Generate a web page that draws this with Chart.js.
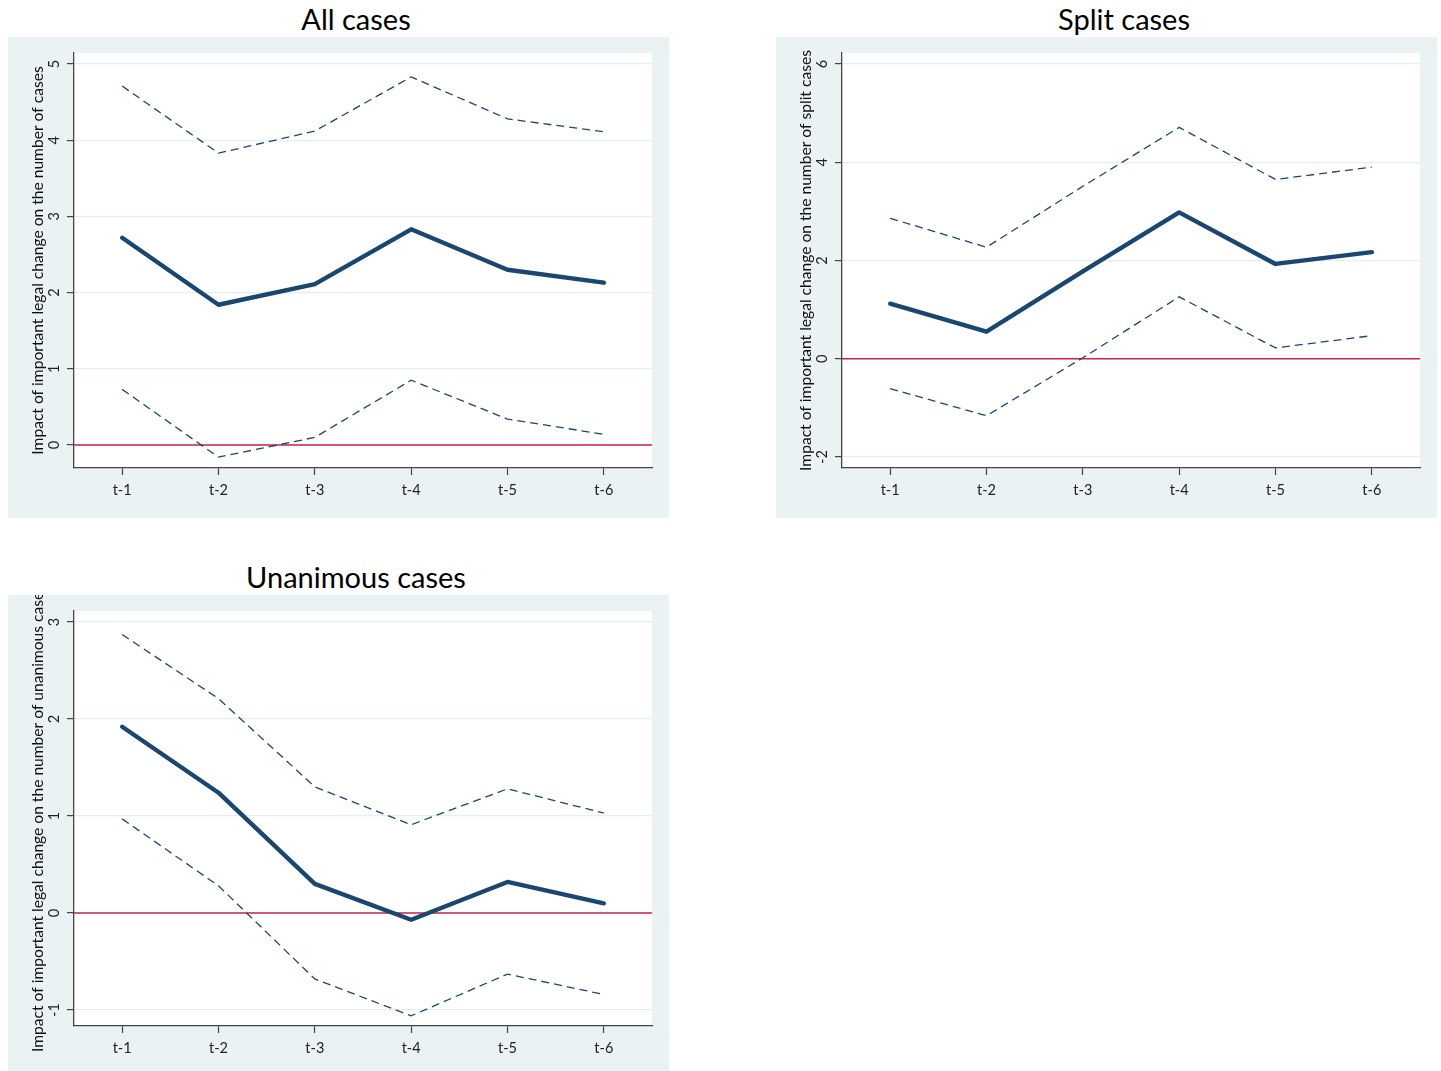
<!DOCTYPE html>
<html>
<head>
<meta charset="utf-8">
<title>Impact of important legal change</title>
<script src="https://cdn.jsdelivr.net/npm/chart.js@4.4.1/dist/chart.umd.min.js"></script>
<style>
  html, body { margin: 0; padding: 0; background: #ffffff; width: 1441px; height: 1071px; overflow: hidden; }
  .panel { position: absolute; }
  .panel canvas { position: absolute; left: 0; display: block; }
  .ptitle { position: absolute; left: 0; width: 696px; text-align: center; font-family: Lato, "Open Sans", sans-serif; font-size: 29px; color: #000; line-height: 32px; white-space: nowrap; }
</style>
</head>
<body>
<div class="panel" id="p1" style="left:8px; top:0px;">
  <div class="ptitle" style="top:3px;">All cases</div>
  <canvas id="c1" width="661" height="481" style="top:37px;"></canvas>
</div>
<div class="panel" id="p2" style="left:776px; top:0px;">
  <div class="ptitle" style="top:3px;">Split cases</div>
  <canvas id="c2" width="661" height="481" style="top:37px;"></canvas>
</div>
<div class="panel" id="p3" style="left:8px; top:558px;">
  <div class="ptitle" style="top:3px;">Unanimous cases</div>
  <canvas id="c3" width="661" height="481" style="top:37px;"></canvas>
</div>
<script>
// Lags of the legal-change indicator
const periods = ['t-1', 't-2', 't-3', 't-4', 't-5', 't-6'];

// All cases: point estimate and confidence band
const allMean  = [2.72, 1.84, 2.11, 2.83, 2.30, 2.13];
const allUpper = [4.71, 3.83, 4.12, 4.83, 4.28, 4.11];
const allLower = [0.73, -0.16, 0.10, 0.85, 0.34, 0.14];
const allTicks = [0, 1, 2, 3, 4, 5];

// Split cases
const splitMean  = [1.12, 0.55, 1.78, 2.98, 1.93, 2.17];
const splitUpper = [2.86, 2.27, 3.51, 4.71, 3.65, 3.90];
const splitLower = [-0.61, -1.16, 0.02, 1.26, 0.22, 0.47];
const splitTicks = [-2, 0, 2, 4, 6];

// Unanimous cases
const unanMean  = [1.92, 1.24, 0.30, -0.07, 0.32, 0.10];
const unanUpper = [2.87, 2.21, 1.30, 0.91, 1.28, 1.03];
const unanLower = [0.97, 0.28, -0.68, -1.06, -0.63, -0.84];
const unanTicks = [-1, 0, 1, 2, 3];

const NAVY = '#1a476f';
const FONT = 'Lato, "Open Sans", sans-serif';

// Background, plot region, zero reference line, rotated y labels and y title
const stataLook = {
  id: 'stataLook',
  beforeDraw(chart) {
    const { ctx, chartArea: a, width, height } = chart;
    ctx.save();
    ctx.fillStyle = '#eaf2f3';
    ctx.fillRect(0, 0, width, height);
    ctx.fillStyle = '#ffffff';
    ctx.fillRect(a.left, a.top, a.right - a.left, a.bottom - a.top);
    ctx.restore();
  },
  beforeDatasetsDraw(chart) {
    const { ctx, chartArea: a } = chart;
    const y0 = chart.scales.y.getPixelForValue(0);
    ctx.save();
    ctx.strokeStyle = '#c8234a';
    ctx.lineWidth = 1.6;
    ctx.beginPath();
    ctx.moveTo(a.left, y0);
    ctx.lineTo(a.right, y0);
    ctx.stroke();
    ctx.restore();
  },
  afterDraw(chart, args, opts) {
    const { ctx, chartArea: a } = chart;
    const ys = chart.scales.y;
    ctx.save();
    ctx.fillStyle = '#222';
    ctx.textAlign = 'center';
    ctx.textBaseline = 'middle';
    ctx.font = '14.5px ' + FONT;
    opts.ticks.forEach(v => {
      const py = ys.getPixelForValue(v);
      ctx.save();
      ctx.translate(a.left - 19.5, py);
      ctx.rotate(-Math.PI / 2);
      ctx.fillText(String(v), 0, 0);
      ctx.restore();
    });
    ctx.font = '15.6px ' + FONT;
    ctx.fillStyle = '#111';
    ctx.save();
    ctx.translate(a.left - 36, (a.top + a.bottom) / 2);
    ctx.rotate(-Math.PI / 2);
    ctx.fillText(opts.title, 0, 0);
    ctx.restore();
    ctx.restore();
  }
};

function makeChart(id, mean, upper, lower, ticks, yMin, yMax, yTitle) {
  const dashed = {
    borderColor: NAVY, borderWidth: 1.3, borderDash: [8, 5],
    pointRadius: 0, tension: 0, fill: false
  };
  return new Chart(document.getElementById(id), {
    type: 'line',
    data: {
      labels: periods,
      datasets: [
        Object.assign({ label: 'upper', data: upper }, dashed),
        Object.assign({ label: 'lower', data: lower }, dashed),
        { label: 'estimate', data: mean, borderColor: NAVY, borderWidth: 4.4,
          borderCapStyle: 'round', borderJoinStyle: 'round',
          pointRadius: 0, tension: 0, fill: false }
      ]
    },
    options: {
      responsive: false,
      animation: false,
      devicePixelRatio: 1,
      layout: { padding: { left: 0, top: 16, right: 17, bottom: 0 } },
      plugins: {
        legend: { display: false },
        tooltip: { enabled: false },
        stataLook: { ticks: ticks, title: yTitle }
      },
      scales: {
        x: {
          type: 'category',
          offset: true,
          grid: { display: true, drawOnChartArea: false, drawTicks: true, tickLength: 7,
                  tickColor: '#444', tickWidth: 1.2, offset: false },
          border: { display: true, color: '#444', width: 1.3 },
          ticks: { color: '#222', font: { family: FONT, size: 14.5 }, padding: 7, maxRotation: 0 },
          afterFit(scale) { scale.height = 50; }
        },
        y: {
          type: 'linear',
          min: yMin, max: yMax,
          afterBuildTicks(scale) { scale.ticks = ticks.map(v => ({ value: v })); },
          grid: { display: true, drawOnChartArea: true, drawTicks: true, tickLength: 7,
                  color: '#e6eef0', lineWidth: 1.2, tickColor: '#444', tickWidth: 1.2 },
          border: { display: true, color: '#444', width: 1.3 },
          ticks: { display: false },
          afterFit(scale) { scale.width = 66; }
        }
      }
    },
    plugins: [stataLook]
  });
}

makeChart('c1', allMean, allUpper, allLower, allTicks, -0.302, 5.144,
  'Impact of important legal change on the number of cases');
makeChart('c2', splitMean, splitUpper, splitLower, splitTicks, -2.224, 6.224,
  'Impact of important legal change on the number of split cases');
makeChart('c3', unanMean, unanUpper, unanLower, unanTicks, -1.165, 3.113,
  'Impact of important legal change on the number of unanimous cases');
</script>
</body>
</html>
